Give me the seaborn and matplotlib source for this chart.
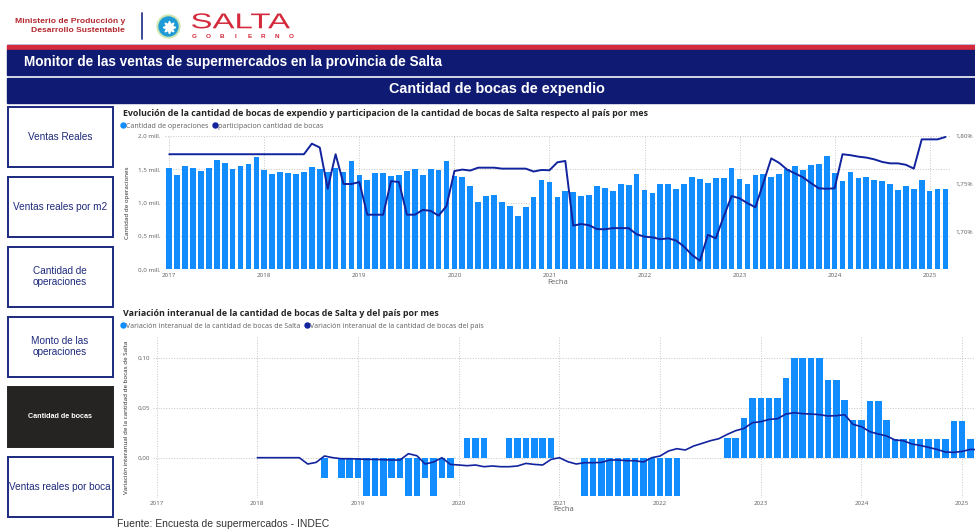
import numpy as np
import pandas as pd
import seaborn as sns
import matplotlib.pyplot as plt
import matplotlib.transforms as mtransforms
from matplotlib.patches import Rectangle, Circle, PathPatch
from matplotlib.lines import Line2D
from matplotlib.textpath import TextPath
from matplotlib.font_manager import FontProperties

sns.set_theme(style="white")
plt.rcParams['font.family'] = ['Open Sans', 'DejaVu Sans']

# ---- datos ----
meses_top = pd.period_range('2017-01', '2025-03', freq='M')
# cantidad de operaciones (millones)
ops = [1.525, 1.415, 1.55, 1.525, 1.48, 1.515, 1.635, 1.59, 1.50, 1.55, 1.585, 1.69,
       1.495, 1.435, 1.455, 1.45, 1.425, 1.465, 1.53, 1.50, 1.46, 1.52, 1.465, 1.62,
       1.41, 1.335, 1.44, 1.45, 1.40, 1.415, 1.48, 1.505, 1.415, 1.50, 1.49, 1.625,
       1.405, 1.38, 1.25, 1.01, 1.10, 1.115, 1.005, 0.95, 0.805, 0.93, 1.085, 1.34,
       1.31, 1.08, 1.175, 1.165, 1.10, 1.11, 1.245, 1.22, 1.18, 1.28, 1.26, 1.43,
       1.19, 1.14, 1.275, 1.275, 1.21, 1.275, 1.385, 1.36, 1.29, 1.365, 1.375, 1.515,
       1.355, 1.285, 1.415, 1.425, 1.385, 1.435, 1.505, 1.555, 1.49, 1.57, 1.585, 1.705,
       1.45, 1.33, 1.465, 1.365, 1.39, 1.335, 1.33, 1.285, 1.19, 1.245, 1.205, 1.345,
       1.17, 1.205, 1.205]
# participacion cantidad de bocas (%)
part = [1.781] * 12 + \
       [1.781, 1.781, 1.781, 1.781, 1.781, 1.781, 1.792, 1.788, 1.745, 1.781, 1.750, 1.750,
        1.752, 1.718, 1.718, 1.718, 1.753, 1.752, 1.718, 1.718, 1.723, 1.722, 1.717, 1.727,
        1.7635, 1.765, 1.764, 1.767, 1.767, 1.767, 1.766, 1.766, 1.766, 1.766, 1.763, 1.7646,
        1.7643, 1.7726, 1.774, 1.7066, 1.7083, 1.707, 1.703, 1.7028, 1.704, 1.704, 1.704, 1.6976,
        1.6951, 1.6944, 1.6924, 1.6934, 1.691, 1.6847, 1.676, 1.670, 1.697, 1.6934, 1.716, 1.7375,
        1.735, 1.730, 1.7257, 1.751, 1.7767, 1.772, 1.765, 1.761, 1.757, 1.751, 1.7455, 1.745,
        1.7455, 1.781, 1.780, 1.7785, 1.7775, 1.7757, 1.773, 1.7715, 1.7715, 1.770, 1.766, 1.7965,
        1.7965, 1.7965, 1.799]

meses_var = pd.period_range('2018-01', '2025-03', freq='M')
var_salta = [0, 0, 0, 0, 0, 0, 0, 0, -0.02, 0, -0.02, -0.02,
             -0.02, -0.038, -0.038, -0.038, -0.02, -0.02, -0.038, -0.038, -0.02, -0.038, -0.02, -0.02,
             0, 0.02, 0.02, 0.02, 0, 0, 0.02, 0.02, 0.02, 0.02, 0.02, 0.02,
             0, 0, 0, -0.038, -0.038, -0.038, -0.038, -0.038, -0.038, -0.038, -0.038, -0.038,
             -0.038, -0.038, -0.038, 0, 0, 0, 0, 0, 0.02, 0.02, 0.04, 0.06,
             0.06, 0.06, 0.06, 0.08, 0.10, 0.10, 0.10, 0.10, 0.078, 0.078, 0.058, 0.038,
             0.038, 0.057, 0.057, 0.038, 0.019, 0.019, 0.019, 0.019, 0.019, 0.019, 0.019, 0.037,
             0.037, 0.019, 0.019]
var_pais = [0, 0, 0, 0, 0, 0, -0.0063, -0.0047, 0.0017, 0, -0.001, -0.001,
            -0.0013, -0.0017, -0.0017, -0.002, -0.0023, -0.0023, 0.004, 0.002, -0.0063, -0.0043, 0.0, -0.0067,
            -0.0073, -0.008, -0.0073, -0.009, -0.0083, -0.009, -0.009, -0.0083, -0.0057, -0.0067, -0.0073, -0.0017,
            0.0, -0.004, -0.0063, -0.005, -0.005, -0.0047, -0.0023, -0.0023, -0.003, -0.003, -0.0043, 0.0,
            0.0017, 0.0067, 0.009, 0.0077, 0.0117, 0.0143, 0.017, 0.019, 0.0233, 0.027, 0.0293, 0.035,
            0.036, 0.0383, 0.039, 0.0437, 0.045, 0.044, 0.0437, 0.043, 0.0417, 0.042, 0.043, 0.0333,
            0.031, 0.026, 0.0237, 0.0217, 0.0177, 0.017, 0.0137, 0.0123, 0.0103, 0.0083, 0.0057, 0.0053,
            0.0063, 0.0083, 0.008]

anios = ['2017', '2018', '2019', '2020', '2021', '2022', '2023', '2024', '2025']
ticks_izq = [0.0, 0.5, 1.0, 1.5, 2.0]
labels_izq = ['0,0 mill.', '0,5 mill.', '1,0 mill.', '1,5 mill.', '2,0 mill.']
ticks_der = [1.70, 1.75, 1.80]
labels_der = ['1,70%', '1,75%', '1,80%']
ticks_var = [0.0, 0.05, 0.10]
labels_var = ['0,00', '0,05', '0,10']
botones = ['Ventas Reales', 'Ventas reales por m2', 'Cantidad de\noperaciones',
           'Monto de las\noperaciones', 'Cantidad de bocas', 'Ventas reales por boca']


def idx_mes(p):
    return (p.year - 2017) * 12 + p.month - 1


df_top = pd.DataFrame({'mes': [idx_mes(p) for p in meses_top], 'ops': ops, 'part': part})
df_var = pd.DataFrame({'mes': [idx_mes(p) for p in meses_var], 'salta': var_salta, 'pais': var_pais})
pos_anios = [i * 12 for i in range(len(anios))]

AZUL = '#118DFF'
NAVY = '#12239E'
GRIS = '#605E5C'
OSCURO = '#252423'
BANNER = '#0F1A73'
ROJO = '#D42A3C'

W, H = 975, 529
fig = plt.figure(figsize=(W / 100, H / 100), dpi=100)
bg = fig.add_axes([0, 0, 1, 1])
bg.set_xlim(0, W)
bg.set_ylim(H, 0)
bg.axis('off')


def px_axes(l, t, r, b):
    return fig.add_axes([l / W, 1 - b / H, (r - l) / W, (b - t) / H])


# ---- encabezado ----
arial = ['Liberation Sans', 'DejaVu Sans']
bg.text(125, 21.5, 'Ministerio de Producción y', ha='right', va='center', fontsize=6.1,
        weight='bold', color='#B3282F', family=arial)
bg.text(125, 30.5, 'Desarrollo Sustentable', ha='right', va='center', fontsize=6.1,
        weight='bold', color='#B3282F', family=arial)
bg.plot([142, 142], [13, 39], color='#2B3A8C', lw=1.3)
bg.add_patch(Circle((168.5, 26.5), 11.5, color='#CFE6B4'))
bg.add_patch(Circle((168.5, 26.5), 9.5, color='#1E9AD6'))
bg.plot([168.5], [26.5], marker=(8, 1, 0), markersize=9, color='white', mec='white')

# logo "SALTA" ensanchado
tp = TextPath((0, 0), 'SALTA', size=20, prop=FontProperties(family='Liberation Sans'))
ext = tp.get_extents()
sx = (290 - 192) / ext.width
sy = (28.5 - 13.3) / ext.height
tr = mtransforms.Affine2D().translate(-ext.x0, -ext.y0).scale(sx, -sy).translate(192, 28.5)
bg.add_patch(PathPatch(tr.transform_path(tp), facecolor=ROJO, edgecolor='none'))
for letra, xc in zip('GOBIERNO', np.linspace(194, 291, 8)):
    bg.text(xc, 36.5, letra, ha='center', va='center', fontsize=4.6, weight='bold',
            color=ROJO, family=arial)

bg.plot([7, 975], [44.3, 44.3], color='#B9B4CF', lw=0.6)
bg.add_patch(Rectangle((7, 45.3), 968, 4.2, color=ROJO))
bg.add_patch(Rectangle((7, 50.3), 968, 24.8, color=BANNER))
bg.add_patch(Rectangle((7, 77.6), 968, 25.0, color=BANNER))
bg.text(24, 62, 'Monitor de las ventas de supermercados en la provincia de Salta', ha='left',
        va='center', fontsize=9.8, weight='bold', color='white', family=arial)
bg.text(497, 89.5, 'Cantidad de bocas de expendio', ha='center', va='center', fontsize=10.4,
        weight='bold', color='white', family=arial)

# ---- botones ----
for i, txt in enumerate(botones):
    top = 106.7 + i * 70
    activo = txt == 'Cantidad de bocas'
    bg.add_patch(Rectangle((7.5, top), 105.5, 60, facecolor=OSCURO if activo else 'white',
                           edgecolor=OSCURO if activo else '#1B2A80', lw=1.4))
    bg.text(60, top + 30, txt, ha='center', va='center', fontsize=5.2 if activo else 7.2,
            color='white' if activo else '#1F2A7C', family=arial, linespacing=1.15,
            weight='bold' if activo else 'normal')

# ---- grafico superior ----
ax1 = px_axes(165, 136, 950, 269.3)
sns.barplot(data=df_top, x='mes', y='ops', native_scale=True, width=0.72, color=AZUL,
            saturation=1, errorbar=None, linewidth=0, ax=ax1)
ax1.set_axisbelow(True)
ax1.grid(True, linestyle=':', color='#C8C6C4', lw=0.7)
ax1.set_ylim(0, 2.0)
ax1.set_yticks(ticks_izq, labels_izq)
ax1.set_xticks(pos_anios, anios)
ax1.tick_params(labelsize=4.5, colors=GRIS, length=0)
ax1.tick_params(axis='y', pad=3.6)
ax1.tick_params(axis='x', pad=2.5)
ax1.set_xlabel('Fecha', fontsize=5.5, color=GRIS, labelpad=1)
ax1.set_ylabel('')
ax2 = ax1.twinx()
sns.lineplot(data=df_top, x='mes', y='part', color=NAVY, lw=1.4, ax=ax2)
ax2.set_ylim(1.6611, 1.80)
ax2.set_yticks(ticks_der, labels_der)
ax2.tick_params(labelsize=4.5, colors=GRIS, length=0, pad=3.6)
ax2.set_ylabel('')
ax2.grid(False)
ax1.set_xlim(-0.54, 98.57)
for a in (ax1, ax2):
    a.patch.set_alpha(0)
    for s in a.spines.values():
        s.set_visible(False)

bg.text(123, 113, 'Evolución de la cantidad de bocas de expendio y participacion de la cantidad '
        'de bocas de Salta respecto al país por mes', ha='left', va='center', fontsize=6.4,
        weight='bold', color=OSCURO)
bg.text(127, 203, 'Cantidad de operaciones', rotation=90, ha='center', va='center',
        fontsize=4.5, color=OSCURO)
ax1.legend(handles=[Line2D([], [], marker='o', ls='', color=AZUL, markersize=3.6),
                    Line2D([], [], marker='o', ls='', color=NAVY, markersize=3.6)],
           labels=['Cantidad de operaciones', 'participacion cantidad de bocas'],
           loc='center left', bbox_to_anchor=(120 / W, 1 - 126 / H), bbox_transform=fig.transFigure,
           ncol=2, frameon=False, fontsize=5.0, handletextpad=0.05, columnspacing=0.5,
           handlelength=0.8, borderpad=0, borderaxespad=0, labelcolor=GRIS)

# ---- grafico inferior ----
ax3 = px_axes(153, 337, 975, 498)
sns.barplot(data=df_var, x='mes', y='salta', native_scale=True, width=0.78, color=AZUL,
            saturation=1, errorbar=None, linewidth=0, ax=ax3)
sns.lineplot(data=df_var, x='mes', y='pais', color=NAVY, lw=1.2, ax=ax3)
ax3.set_axisbelow(True)
ax3.grid(True, linestyle=':', color='#C8C6C4', lw=0.7)
ax3.set_xlim(-0.44, 97.53)
ax3.set_ylim(-0.0403, 0.1207)
ax3.set_yticks(ticks_var, labels_var)
ax3.set_xticks(pos_anios, anios)
ax3.tick_params(labelsize=4.5, colors=GRIS, length=0)
ax3.tick_params(axis='y', pad=2)
ax3.tick_params(axis='x', pad=2)
ax3.set_xlabel('Fecha', fontsize=5.5, color=GRIS, labelpad=0.5)
ax3.set_ylabel('')
ax3.patch.set_alpha(0)
for s in ax3.spines.values():
    s.set_visible(False)

bg.text(123, 313, 'Variación interanual de la cantidad de bocas de Salta y del país por mes',
        ha='left', va='center', fontsize=6.4, weight='bold', color=OSCURO)
bg.text(127, 417, 'Variación interanual de la cantidad de bocas de Salta', rotation=90,
        ha='center', va='center', fontsize=4.5, color=OSCURO)
ax3.legend(handles=[Line2D([], [], marker='o', ls='', color=AZUL, markersize=3.6),
                    Line2D([], [], marker='o', ls='', color=NAVY, markersize=3.6)],
           labels=['Variación interanual de la cantidad de bocas de Salta',
                   'Variación interanual de la cantidad de bocas del país'],
           loc='center left', bbox_to_anchor=(120 / W, 1 - 326 / H), bbox_transform=fig.transFigure,
           ncol=2, frameon=False, fontsize=5.0, handletextpad=0.05, columnspacing=0.5,
           handlelength=0.8, borderpad=0, borderaxespad=0, labelcolor=GRIS)

bg.text(117, 524, 'Fuente: Encuesta de supermercados - INDEC', ha='left', va='center',
        fontsize=7.5, color='#333333', family=arial)

fig.savefig('out.png', dpi=100)
